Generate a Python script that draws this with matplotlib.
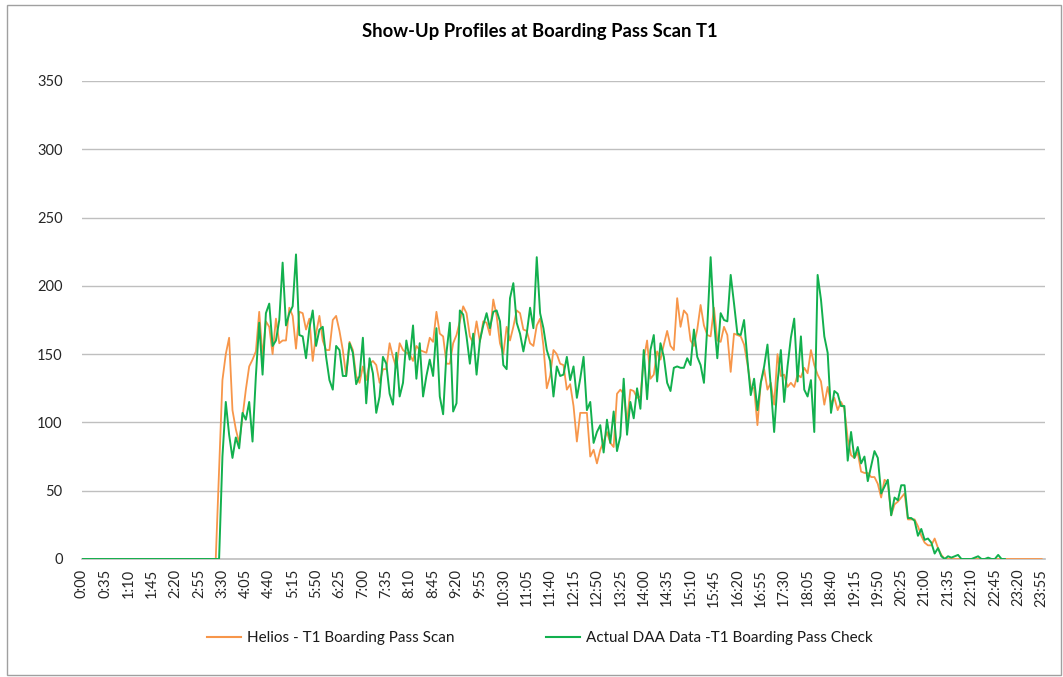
import numpy as np
import matplotlib
matplotlib.use("Agg")
import matplotlib.pyplot as plt
from matplotlib.patches import Rectangle
from matplotlib.lines import Line2D

# ---- data (5-minute intervals, 0:00 .. 23:55) ----
helios_active = [  # index 40 .. 257
    0, 65, 131, 150, 162, 109, 95, 85, 104, 124,
    141, 146, 152, 181, 148, 174, 170, 150, 176, 158,
    160, 160, 184, 178, 154, 181, 180, 168, 176, 145,
    165, 178, 160, 153, 153, 175, 178, 167, 153, 134,
    159, 153, 134, 129, 141, 131, 143, 145, 142, 129,
    139, 139, 158, 148, 140, 158, 153, 151, 150, 145,
    156, 153, 152, 151, 162, 159, 181, 165, 163, 143,
    143, 158, 164, 174, 185, 180, 163, 158, 174, 159,
    174, 173, 164, 190, 178, 158, 150, 170, 160, 170,
    182, 180, 168, 167, 158, 156, 171, 176, 156, 125,
    134, 153, 150, 143, 142, 124, 128, 112, 86, 107,
    107, 107, 75, 80, 70, 80, 86, 93, 85, 82,
    121, 124, 121, 100, 124, 123, 118, 119, 146, 160,
    132, 135, 152, 146, 157, 167, 156, 153, 191, 170,
    182, 179, 160, 156, 168, 186, 171, 164, 163, 184,
    160, 159, 170, 164, 137, 165, 164, 163, 157, 143,
    126, 125, 98, 129, 139, 124, 129, 113, 150, 134,
    135, 126, 129, 126, 135, 133, 140, 136, 153, 142,
    135, 130, 113, 126, 114, 118, 109, 115, 110, 88,
    76, 74, 78, 64, 63, 63, 60, 60, 55, 45,
    58, 56, 32, 40, 42, 45, 48, 29, 29, 29,
    24, 17, 12, 10, 10, 15, 8, 3,
]
actual_active = [  # index 42 .. 276
    75, 115, 91, 74, 89, 81, 107, 102,
    115, 86, 134, 173, 135, 180, 187, 156, 160, 175,
    217, 171, 180, 185, 223, 164, 163, 147, 169, 182,
    156, 168, 170, 148, 131, 124, 156, 153, 134, 134,
    158, 151, 128, 134, 162, 114, 147, 136, 107, 119,
    148, 143, 121, 113, 151, 119, 129, 160, 146, 171,
    132, 158, 119, 134, 146, 134, 169, 119, 106, 151,
    173, 108, 114, 182, 179, 163, 143, 165, 135, 160,
    171, 180, 169, 181, 182, 174, 142, 139, 191, 202,
    173, 165, 152, 165, 184, 169, 221, 180, 169, 153,
    145, 119, 141, 134, 135, 148, 131, 141, 118, 132,
    148, 109, 115, 85, 93, 98, 78, 102, 85, 108,
    79, 90, 132, 91, 115, 103, 125, 110, 153, 117,
    153, 164, 130, 158, 148, 129, 123, 140, 141, 140,
    140, 147, 142, 168, 148, 142, 129, 170, 221, 175,
    147, 180, 175, 174, 208, 187, 165, 164, 175, 146,
    120, 132, 109, 129, 141, 157, 126, 93, 129, 153,
    115, 141, 162, 176, 130, 163, 124, 119, 131, 93,
    208, 190, 163, 151, 107, 123, 121, 112, 112, 72,
    93, 74, 82, 70, 75, 57, 68, 79, 74, 48,
    53, 58, 32, 45, 43, 54, 54, 30, 30, 28,
    17, 22, 14, 15, 12, 4, 8, 2, 0, 2,
    1, 2, 3, 0, 0, 0, 0, 1, 2, 0,
    0, 1, 0, 0, 3, 0, 0,
]

n_slots = 288
times = [f"{(5 * k) // 60}:{(5 * k) % 60:02d}" for k in range(n_slots)]
helios = [0] * 40 + helios_active + [0] * (n_slots - 40 - len(helios_active))
actual = [0] * 42 + actual_active + [np.nan] * (n_slots - 42 - len(actual_active))

series_names = ["Helios - T1 Boarding Pass Scan",
                "Actual DAA Data -T1 Boarding Pass Check"]
title = "Show-Up Profiles at Boarding Pass Scan T1"

# ---- figure ----
W, H = 1063, 677
fig = plt.figure(figsize=(W / 100, H / 100), dpi=100)
plt.rcParams['font.family'] = ['Lato', 'DejaVu Sans']

# chart border
fig.patches.append(Rectangle((7 / W, 2 / H), (1061 - 7) / W, (672 - 2) / H,
                             transform=fig.transFigure, fill=False,
                             edgecolor='#a0a0a0', linewidth=1.0))

left, right, top, bottom = 82, 1045, 81, 559
ax = fig.add_axes([left / W, 1 - bottom / H, (right - left) / W, (bottom - top) / H])

x = np.arange(n_slots)
orange = '#F7964A'
green = '#12B04E'
ax.plot(x, helios, color=orange, lw=1.3, label=series_names[0], zorder=3)
ax.plot(x, actual, color=green, lw=1.4, label=series_names[1], zorder=4)

ax.set_xlim(0, 288)
ax.set_ylim(0, 350)
ax.set_yticks(np.arange(0, 351, 50))
ax.grid(axis='y', color='#bfbfbf', linewidth=1.0)
ax.set_axisbelow(True)
for s in ['top', 'right', 'left']:
    ax.spines[s].set_visible(False)
ax.spines['bottom'].set_color('#bfbfbf')
ax.spines['bottom'].set_linewidth(1.2)

tick_idx = list(range(0, n_slots, 7))
ax.set_xticks(tick_idx)
ax.set_xticklabels([times[k] for k in tick_idx], rotation=90, fontsize=10.5, color='#262626')
ax.tick_params(axis='x', length=0, pad=7)
ax.tick_params(axis='y', length=0, pad=14, labelsize=10.5, labelcolor='#262626')

fig.text(0.508, 1 - 31 / H, title, ha='center', va='center', fontsize=13.3,
         fontweight='bold', color='#000000')

handles = [Line2D([], [], color=orange, lw=1.5), Line2D([], [], color=green, lw=1.5)]
fig.legend(handles, series_names, loc='center', bbox_to_anchor=(0.508, 1 - 638 / H),
           ncol=2, frameon=False, fontsize=11, handlelength=2.2, handletextpad=0.4,
           columnspacing=6.0, labelcolor='#1a1a1a')

fig.savefig('out.png', dpi=100, facecolor='white')
